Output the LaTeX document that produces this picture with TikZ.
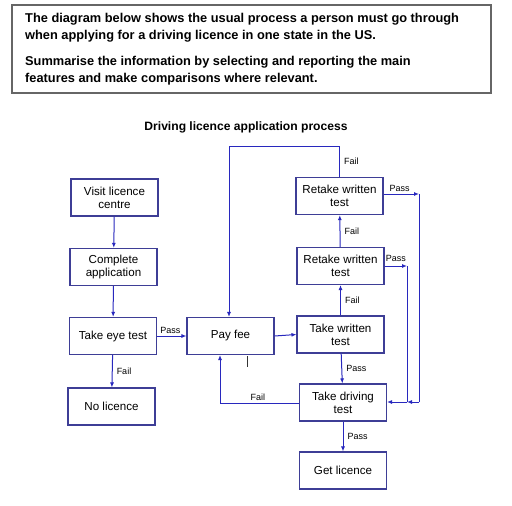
\documentclass[tikz,border=0pt]{standalone}
\usepackage{xcolor}
\usepackage{fontspec}
\setmainfont{Liberation Sans}
\usepackage{tikz}
\usetikzlibrary{arrows,arrows.meta,positioning}
\definecolor{boxblue}{RGB}{62,62,150}
\definecolor{arrblue}{RGB}{40,40,190}
\tikzset{
  stage/.style={draw=boxblue, line width=1.1pt, minimum width=87, minimum height=37, align=center, inner sep=1pt, font=\fontsize{11.6}{13}\selectfont},
  link/.style={draw=arrblue, line width=1pt, -{Latex[length=5pt,width=4pt]}},
  plain/.style={draw=arrblue, line width=1pt},
  lbl/.style={font=\fontsize{9}{10}\selectfont, text=black, inner sep=1pt}
}

\begin{document}
\begin{tikzpicture}[x=1pt,y=-1pt]
\useasboundingbox (0,0) rectangle (512,506);
\fill[white] (0,0) rectangle (512,506);
% task box
\draw[draw=gray!80!black, line width=1.2pt] (12,5) rectangle (491,93);
\node (task) [anchor=north west, align=left, inner sep=0pt, font=\bfseries\fontsize{12.8}{17}\selectfont] at (25,13)
  {The diagram below shows the usual process a person must go through\\
   when applying for a driving licence in one state in the US.\\[9pt]
   Summarise the information by selecting and reporting the main\\
   features and make comparisons where relevant.};
\node (title) [font=\bfseries\fontsize{12.1}{14}\selectfont] at (246,127) {Driving licence application process};
% stages
\node (visit) [stage] at (114.5,197.5) {Visit licence\\centre};
\node (appl) [stage] at (113.5,267) {Complete\\application};
\node (eye) [stage] at (113,336) {Take eye test};
\node (nolic) [stage] at (111.5,406.5) {No licence};
\node (fee) [stage] at (230.5,336) {Pay fee};
\node (wtest) [stage] at (340.5,334.5) {Take written\\test};
\node (retakeA) [stage] at (340.5,266) {Retake written\\test};
\node (retakeB) [stage] at (339.5,196) {Retake written\\test};
\node (dtest) [stage] at (343,402.5) {Take driving\\test};
\node (getlic) [stage] at (343,470.5) {Get licence};
% corner points
\coordinate (topL) at (229,146);
\coordinate (passB) at (419,194);
\coordinate (passA) at (407,266);
\coordinate (joinB) at (419,402);
\coordinate (joinA) at (407,402);
\coordinate (failC) at (220,403);
% connectors
\draw[link] (visit) -- (appl);
\draw[link] (appl) -- (eye);
\draw[link] (eye) -- node[lbl, above, pos=0.45, yshift=1pt] {Pass} (fee);
\draw[link] (eye) -- node[lbl, right, xshift=3pt] {Fail} (nolic);
\draw[link] (fee.east) -- (wtest.west);
\draw[link] (wtest) -- node[lbl, right, xshift=3pt] {Pass} (dtest);
\draw[link] (wtest) -- node[lbl, right, xshift=3pt] {Fail} (retakeA);
\draw[link] (retakeA) -- node[lbl, right, xshift=3pt] {Fail} (retakeB);
\draw[link] (retakeB.north) -- node[lbl, right, xshift=3pt] {Fail} (retakeB.north |- topL) -- (topL) -- (topL |- fee.north);
\draw[link] (retakeB.east |- passB) -- node[lbl, above, pos=0.45, yshift=1pt] {Pass} (passB);
\draw[link] (retakeA.east |- passA) -- node[lbl, above, pos=0.5, yshift=3pt] {Pass} (passA);
\draw[plain] (passB) -- (joinB);
\draw[plain] (passA) -- (joinA);
\draw[link] (joinB) -- (joinA);
\draw[link] (joinA) -- (dtest.east |- joinA);
\draw[link] (dtest.west |- failC) -- node[lbl, above, pos=0.52, yshift=1pt] {Fail} (failC) -- (failC |- fee.south);
\draw[draw=black!80, line width=0.8pt] (247,356) -- (247,367);
\draw[link] (dtest) -- node[lbl, right, xshift=3pt] {Pass} (getlic);
\end{tikzpicture}
\end{document}
